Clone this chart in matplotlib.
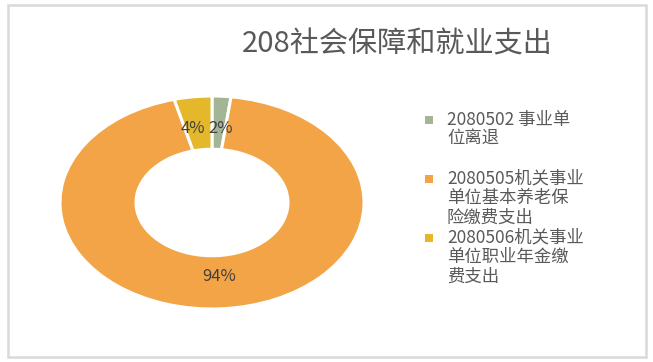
import matplotlib
matplotlib.use("Agg")
import matplotlib.pyplot as plt
from matplotlib.patches import Rectangle

plt.rcParams['font.family'] = ['Noto Sans CJK SC', 'DejaVu Sans']

title = "208社会保障和就业支出"
labels = ["2080502 事业单\n位离退",
          "2080505机关事业\n单位基本养老保\n险缴费支出",
          "2080506机关事业\n单位职业年金缴\n费支出"]
values = [2, 94, 4]
colors = ["#A3B594", "#F2A446", "#E4B82A"]

W, H = 653, 362
fig = plt.figure(figsize=(W / 100, H / 100), dpi=100)
fig.patch.set_facecolor("white")

# outer frame
fig.patches.append(Rectangle((7.5 / W, (H - 357) / H), (646 - 7.5) / W, (357 - 5) / H,
                             transform=fig.transFigure, fill=False,
                             edgecolor="#D9D9D9", lw=1.8))

# pie axes (stretched ellipse like the reference)
cx, cy, rx, ry = 212, 202.5, 152, 106.5
ax = fig.add_axes([(cx - rx) / W, (H - cy - ry) / H, 2 * rx / W, 2 * ry / H])
wedges, texts, autotexts = ax.pie(
    values, colors=colors, startangle=90, counterclock=False,
    autopct=lambda p: f"{p:.0f}%", pctdistance=0.70,
    wedgeprops=dict(width=0.5, edgecolor="white", linewidth=2.2),
    textprops=dict(fontsize=12, color="#404040"))
ax.set_aspect("auto")
ax.set_xlim(-1, 1)
ax.set_ylim(-1, 1)
ax.axis("off")

# nudge the two small-slice labels apart a little (they touch in the reference)
x0, y0 = autotexts[0].get_position()
autotexts[0].set_position((x0 + 0.01, y0))
x2, y2 = autotexts[2].get_position()
autotexts[2].set_position((x2 - 0.035, y2))

# title
fig.text(397 / W, 1 - 44 / H, title, ha="center", va="center",
         fontsize=21, color="#595959")

# legend
entry_y = [120, 179, 238]
for lab, col, y in zip(labels, colors, entry_y):
    fig.patches.append(Rectangle(((429 - 4) / W, 1 - (y + 4) / H), 8 / W, 8 / H,
                                 transform=fig.transFigure, facecolor=col,
                                 edgecolor="none"))
    fig.text(447 / W, 1 - (y - 9.5) / H, lab, ha="left", va="top",
             fontsize=12.5, color="#595959", linespacing=1.1)

fig.savefig("out.png", dpi=100, facecolor="white")
